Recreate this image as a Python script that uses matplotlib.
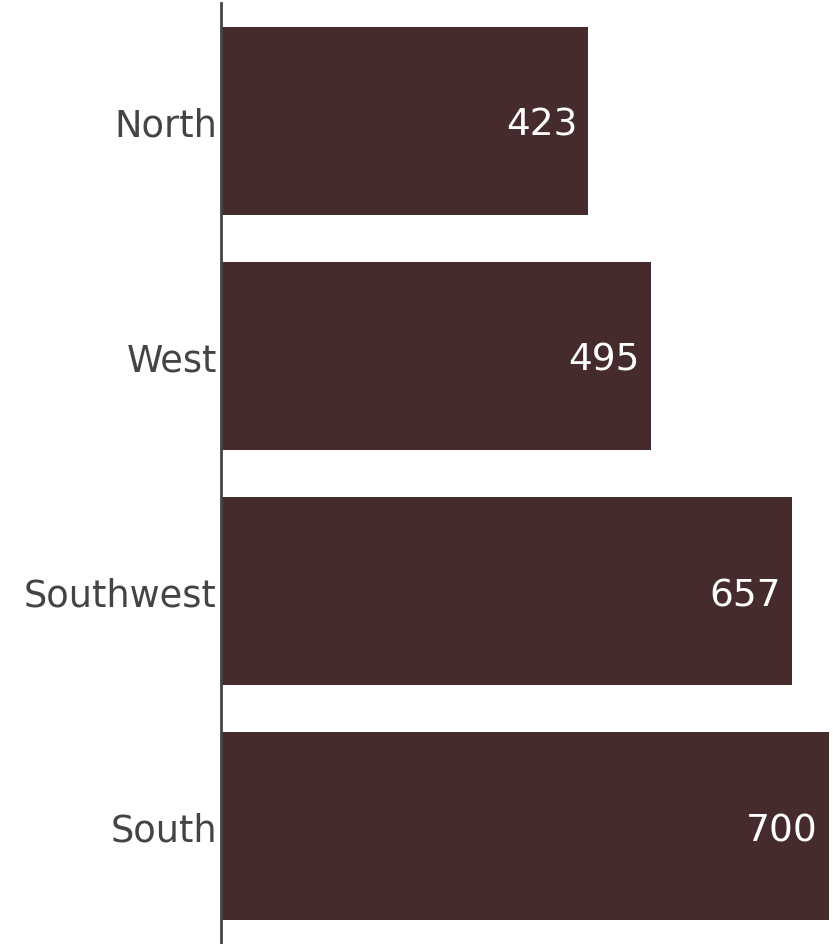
import matplotlib
matplotlib.use("Agg")
import matplotlib.pyplot as plt

categories = ["North", "West", "Southwest", "South"]
values = [423, 495, 657, 700]

bar_color = "#452B2B"
text_color = "#444444"

fig = plt.figure(figsize=(8.33, 9.45), dpi=100)
ax = fig.add_axes([221/833, 0.0, (829-221)/833, 941.0/945])

y = list(range(len(categories)))
ax.barh(y, values, height=0.8, color=bar_color)
ax.set_ylim(3.5, -0.5)
ax.set_xlim(0, 700)
ax.set_yticks(y)
ax.set_yticklabels(categories, fontsize=26.5, color=text_color, family="DejaVu Sans")
ax.tick_params(axis="y", length=0, pad=3)
ax.set_xticks([])
for s in ["top", "right", "bottom"]:
    ax.spines[s].set_visible(False)
ax.spines["left"].set_color(text_color)
ax.spines["left"].set_linewidth(2)

for yi, v in zip(y, values):
    ax.annotate(str(v), xy=(v, yi), xytext=(-11, 0), textcoords="offset pixels",
                ha="right", va="center_baseline", color="white", fontsize=27, family="DejaVu Sans")

fig.savefig("out.png", dpi=100, facecolor="white")
